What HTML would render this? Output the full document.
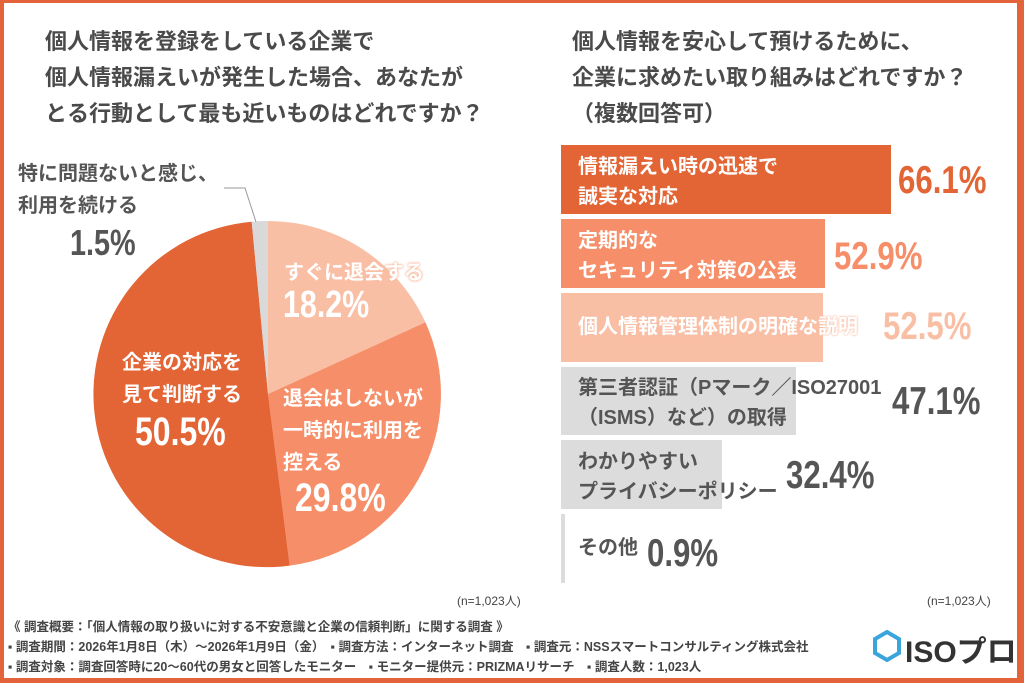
<!DOCTYPE html>
<html><head><meta charset="utf-8"><style>
html,body{margin:0;padding:0;}
body{width:1024px;height:683px;position:relative;overflow:hidden;background:#fff;font-family:"Liberation Sans","Noto Sans CJK JP",sans-serif;}
.frame{position:absolute;left:0;top:0;width:1024px;height:683px;box-sizing:border-box;border-style:solid;border-color:#e3633a;border-width:3px 7px 5px 4px;}
.t{position:absolute;color:#4a4a4a;font-weight:bold;white-space:nowrap;}
.num{position:absolute;font-weight:bold;white-space:nowrap;transform-origin:0 0;transform:scaleX(0.8);font-family:"Liberation Sans",sans-serif;}
.bar{position:absolute;left:561px;}
.bl{position:absolute;left:578px;font-size:20px;font-weight:bold;line-height:30px;white-space:nowrap;}
</style></head><body>
<div class="frame"></div>
<div class="t" style="left:45px;top:24px;font-size:22px;line-height:36px;">個人情報を登録をしている企業で<br>個人情報漏えいが発生した場合、あなたが<br>とる行動として最も近いものはどれですか？</div>
<div class="t" style="left:572px;top:24px;font-size:22px;line-height:36px;">個人情報を安心して預けるために、<br>企業に求めたい取り組みはどれですか？<br>（複数回答可）</div>

<svg style="position:absolute;left:0;top:0" width="1024" height="683">
<path d="M268,394 L268,221 A173,173 0 0 1 425.4,322.3 Z" fill="#f9bfa5"/>
<path d="M268,394 L425.4,322.3 A173,173 0 0 1 289.7,565.6 Z" fill="#f68f69"/>
<path d="M268,394 L289.7,565.6 A173,173 0 1 1 251.7,221.8 Z" fill="#e36434"/>
<path d="M268,394 L251.7,221.8 A173,173 0 0 1 268,221 Z" fill="#d9d9d9"/>
<polyline points="224,188 245,188 256,222" fill="none" stroke="#999" stroke-width="1"/>
</svg>

<div class="t" style="left:18px;top:158px;font-size:20px;line-height:32px;color:#555;">特に問題ないと感じ、<br>利用を続ける</div>
<div class="num" style="left:70px;top:222px;font-size:36px;color:#555;">1.5%</div>
<div class="t" style="left:284px;top:256px;font-size:20px;color:#fff;text-shadow:0 0 2px #f9bfa5,0 0 2px #f9bfa5,0 0 3px #f9bfa5;">すぐに退会する</div>
<div class="num" style="left:283px;top:284px;font-size:38px;color:#fff;">18.2%</div>
<div class="t" style="left:283px;top:383px;font-size:20px;line-height:32px;color:#fff;">退会はしないが<br>一時的に利用を<br>控える</div>
<div class="num" style="left:295px;top:476px;font-size:40px;color:#fff;">29.8%</div>
<div class="t" style="left:122px;top:347px;font-size:20px;line-height:32px;color:#fff;">企業の対応を<br>見て判断する</div>
<div class="num" style="left:135px;top:410px;font-size:40px;color:#fff;">50.5%</div>

<div class="bar" style="top:145px;width:330px;height:69px;background:#e36434"></div>
<div class="bar" style="top:219px;width:264px;height:69px;background:#f68f69"></div>
<div class="bar" style="top:293px;width:262px;height:69px;background:#f9bfa5"></div>
<div class="bar" style="top:367px;width:235px;height:68px;background:#dcdcdc"></div>
<div class="bar" style="top:440px;width:161px;height:69px;background:#dcdcdc"></div>
<div class="bar" style="top:514px;width:4px;height:69px;background:#dcdcdc"></div>

<div class="bl" style="top:152px;color:#fff;">情報漏えい時の迅速で<br>誠実な対応</div>
<div class="bl" style="top:226px;color:#fff;">定期的な<br>セキュリティ対策の公表</div>
<div class="bl" style="top:312px;color:#fff;text-shadow:0 0 2px #f9bfa5,0 0 2px #f9bfa5;">個人情報管理体制の明確な説明</div>
<div class="bl" style="top:373px;color:#555;">第三者認証（Pマーク／ISO27001<br>（ISMS）など）の取得</div>
<div class="bl" style="top:447px;color:#555;">わかりやすい<br>プライバシーポリシー</div>
<div class="bl" style="top:533px;color:#555;">その他</div>

<div class="num" style="left:898px;top:159px;font-size:39px;color:#e36434;">66.1%</div>
<div class="num" style="left:834px;top:235px;font-size:39px;color:#f68f69;">52.9%</div>
<div class="num" style="left:883px;top:305px;font-size:39px;color:#f9bfa5;">52.5%</div>
<div class="num" style="left:892px;top:380px;font-size:39px;color:#555;">47.1%</div>
<div class="num" style="left:786px;top:454px;font-size:39px;color:#555;">32.4%</div>
<div class="num" style="left:647px;top:532px;font-size:39px;color:#555;">0.9%</div>

<div class="t" style="left:457px;top:592px;font-size:12px;color:#444;font-weight:normal;">(n=1,023人)</div>
<div class="t" style="left:927px;top:592px;font-size:12px;color:#444;font-weight:normal;">(n=1,023人)</div>
<div class="t" style="left:8px;top:617px;font-size:12.5px;color:#444;line-height:20px;">《 調査概要：「個人情報の取り扱いに対する不安意識と企業の信頼判断」に関する調査 》<br>▪ 調査期間：2026年1月8日（木）～2026年1月9日（金）　▪ 調査方法：インターネット調査　▪ 調査元：NSSスマートコンサルティング株式会社<br>▪ 調査対象：調査回答時に20～60代の男女と回答したモニター　▪ モニター提供元：PRIZMAリサーチ　▪ 調査人数：1,023人</div>
<svg style="position:absolute;left:873px;top:630px" width="28" height="32"><polygon points="14,2 26,9 26,23 14,30 2,23 2,9" fill="none" stroke="#3aa5dc" stroke-width="4"/></svg>
<div class="t" style="left:905px;top:627px;font-size:30px;color:#333;">ISOプロ</div>
</body></html>
